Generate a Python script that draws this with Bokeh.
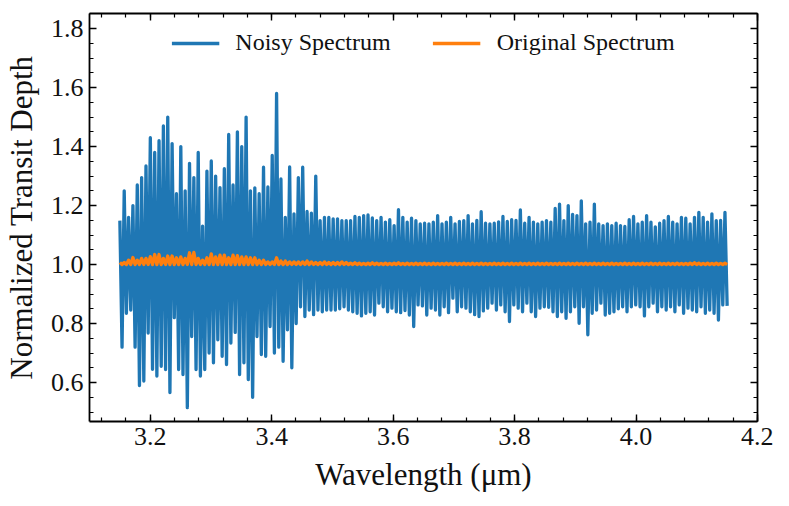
import numpy as np
from bokeh.plotting import figure
from bokeh.models import (LinearAxis, SingleIntervalTicker, Range1d, Legend,
                          LegendItem, CustomJSTickFormatter)
from bokeh.embed import file_html
from bokeh.resources import INLINE

# ---- data ----
series_names = ["Noisy Spectrum", "Original Spectrum"]
wavelength_start = 3.15
wavelength_end = 4.15

noisy_depth = [
    1.149, 0.72, 1.25, 0.835, 1.16, 0.846, 1.20, 0.72, 1.27, 0.59, 1.295, 0.605, 1.334, 0.768, 1.43, 0.645, 1.38, 0.622, 1.42, 0.655,
    1.47, 0.644, 1.50, 0.566, 1.41, 0.82, 1.24, 0.644, 1.40, 0.627, 1.25, 0.515, 1.343, 0.756, 1.295, 0.644, 1.38, 0.622, 1.13, 0.644,
    1.317, 0.70, 1.351, 0.667, 1.30, 0.745, 1.261, 0.689, 1.325, 0.661, 1.441, 0.734, 1.27, 0.77, 1.45, 0.627, 1.40, 0.667, 1.50, 0.61,
    1.25, 0.55, 1.26, 0.756, 1.24, 0.695, 1.33, 0.689, 1.263, 0.79, 1.37, 0.70, 1.58, 0.72, 1.29, 0.672, 1.16, 0.779, 1.331, 0.65,
    1.172, 0.80, 1.295, 0.857, 1.33, 0.824, 1.18, 0.846, 1.174, 0.83, 1.30, 0.846, 1.149, 0.84, 1.16, 0.846, 1.16, 0.846, 1.155, 0.846,
    1.155, 0.85, 1.149, 0.857, 1.149, 0.846, 1.149, 0.84, 1.163, 0.835, 1.16, 0.826, 1.166, 0.835, 1.168, 0.84, 1.158, 0.829, 1.149, 0.869,
    1.16, 0.857, 1.144, 0.84, 1.152, 0.852, 1.132, 0.84, 1.186, 0.837, 1.16, 0.844, 1.144, 0.829, 1.157, 0.79, 1.149, 0.863, 1.138, 0.86,
    1.14, 0.829, 1.138, 0.852, 1.144, 0.846, 1.166, 0.829, 1.138, 0.857, 1.144, 0.837, 1.16, 0.886, 1.138, 0.84, 1.146, 0.857, 1.149, 0.852,
    1.166, 0.84, 1.138, 0.83, 1.15, 0.824, 1.179, 0.843, 1.14, 0.852, 1.138, 0.869, 1.14, 0.846, 1.145, 0.863, 1.163, 0.84, 1.146, 0.807,
    1.152, 0.863, 1.15, 0.852, 1.185, 0.84, 1.14, 0.869, 1.16, 0.84, 1.144, 0.824, 1.138, 0.852, 1.144, 0.857, 1.149, 0.855, 1.144, 0.84,
    1.19, 0.824, 1.205, 0.84, 1.149, 0.818, 1.20, 0.84, 1.17, 0.857, 1.166, 0.801, 1.216, 0.857, 1.138, 0.762, 1.144, 0.835, 1.205, 0.846,
    1.138, 0.869, 1.132, 0.829, 1.138, 0.835, 1.132, 0.84, 1.14, 0.85, 1.132, 0.857, 1.129, 0.84, 1.152, 0.857, 1.163, 0.863, 1.138, 0.857,
    1.144, 0.826, 1.166, 0.857, 1.144, 0.869, 1.128, 0.84, 1.14, 0.857, 1.149, 0.846, 1.163, 0.857, 1.144, 0.84, 1.138, 0.863, 1.16, 0.835,
    1.157, 0.852, 1.138, 0.846, 1.16, 0.84, 1.177, 0.857, 1.16, 0.835, 1.144, 0.846, 1.172, 0.835, 1.149, 0.812, 1.15, 0.863, 1.177, 0.86,
]

original_depth = [
    1.007, 1.0, 1.007, 1.0, 1.015, 1.0, 1.024, 1.0, 1.015, 1.0, 1.021, 1.0, 1.021, 1.0, 1.027, 1.0, 1.034, 1.0, 1.034, 1.0,
    1.021, 1.0, 1.029, 1.0, 1.029, 1.0, 1.023, 1.0, 1.026, 1.0, 1.021, 1.0, 1.040, 1.0, 1.041, 1.0, 1.021, 1.0, 1.015, 1.0,
    1.023, 1.0, 1.036, 1.0, 1.026, 1.0, 1.032, 1.0, 1.032, 1.0, 1.023, 1.0, 1.032, 1.0, 1.030, 1.0, 1.026, 1.0, 1.026, 1.0,
    1.023, 1.0, 1.023, 1.0, 1.015, 1.0, 1.015, 1.0, 1.009, 1.0, 1.009, 1.0, 1.023, 1.0, 1.012, 1.0, 1.012, 1.0, 1.009, 1.0,
    1.009, 1.0, 1.009, 1.0, 1.009, 1.0, 1.012, 1.0, 1.009, 1.0, 1.007, 1.0, 1.007, 1.0, 1.009, 1.0, 1.007, 1.0, 1.007, 1.0,
    1.007, 1.0, 1.009, 1.0, 1.007, 1.0, 1.005, 1.0, 1.006, 1.0, 1.005, 1.0, 1.004, 1.0, 1.005, 1.0, 1.006, 1.0, 1.005, 1.0,
    1.004, 1.0, 1.005, 1.0, 1.004, 1.0, 1.005, 1.0, 1.006, 1.0, 1.004, 1.0, 1.005, 1.0, 1.004, 1.0, 1.005, 1.0, 1.004, 1.0,
    1.005, 1.0, 1.004, 1.0, 1.005, 1.0, 1.004, 1.0, 1.004, 1.0, 1.005, 1.0, 1.004, 1.0, 1.005, 1.0, 1.004, 1.0, 1.005, 1.0,
    1.004, 1.0, 1.005, 1.0, 1.004, 1.0, 1.005, 1.0, 1.004, 1.0, 1.004, 1.0, 1.005, 1.0, 1.004, 1.0, 1.005, 1.0, 1.004, 1.0,
    1.005, 1.0, 1.004, 1.0, 1.005, 1.0, 1.004, 1.0, 1.005, 1.0, 1.004, 1.0, 1.005, 1.0, 1.004, 1.0, 1.005, 1.0, 1.004, 1.0,
    1.004, 1.0, 1.005, 1.0, 1.004, 1.0, 1.005, 1.0, 1.004, 1.0, 1.005, 1.0, 1.004, 1.0, 1.005, 1.0, 1.004, 1.0, 1.005, 1.0,
    1.004, 1.0, 1.005, 1.0, 1.004, 1.0, 1.005, 1.0, 1.004, 1.0, 1.004, 1.0, 1.005, 1.0, 1.004, 1.0, 1.005, 1.0, 1.004, 1.0,
    1.005, 1.0, 1.004, 1.0, 1.005, 1.0, 1.004, 1.0, 1.005, 1.0, 1.004, 1.0, 1.005, 1.0, 1.004, 1.0, 1.005, 1.0, 1.004, 1.0,
    1.004, 1.0, 1.005, 1.0, 1.006, 1.0, 1.005, 1.0, 1.004, 1.0, 1.005, 1.0, 1.004, 1.0, 1.005, 1.0, 1.004, 1.0, 1.005, 1.0,
]

noisy_wavelength = np.linspace(wavelength_start, wavelength_end, len(noisy_depth)).tolist()
original_wavelength = np.linspace(wavelength_start, wavelength_end, len(original_depth)).tolist()

# ---- style ----
SERIF = "Liberation Serif"
BLUE = "#1f77b4"
ORANGE = "#ff7f0e"
LW = 3.3

p = figure(width=773, height=502,
           x_range=Range1d(3.1, 4.2), y_range=Range1d(0.468, 1.851),
           output_backend="svg", toolbar_location=None,
           min_border_left=88, min_border_right=16,
           min_border_top=13, min_border_bottom=81,
           x_axis_label="Wavelength (\u03bcm)",
           y_axis_label="Normalized Transit Depth")
p.xgrid.visible = False
p.ygrid.visible = False
p.outline_line_color = None
p.background_fill_color = "white"

r_noisy = p.line(noisy_wavelength, noisy_depth, line_color=BLUE, line_width=LW,
                 line_join="round")
r_orig = p.line(original_wavelength, original_depth, line_color=ORANGE, line_width=LW,
                line_join="round")

one_decimal = CustomJSTickFormatter(code="return tick.toFixed(1);")
no_label = CustomJSTickFormatter(code="return '';")

def style_axis(ax):
    ax.axis_line_color = "black"
    ax.axis_line_width = 1.8
    ax.major_tick_line_color = "black"
    ax.minor_tick_line_color = "black"
    ax.major_tick_line_width = 1.4
    ax.minor_tick_line_width = 1.2
    ax.major_tick_in = 7
    ax.major_tick_out = 0
    ax.minor_tick_in = 4
    ax.minor_tick_out = 0

for ax in [p.xaxis[0], p.yaxis[0]]:
    style_axis(ax)
    ax.formatter = one_decimal
    ax.major_label_text_font = SERIF
    ax.major_label_text_font_size = "26px"
    ax.major_label_text_color = "#111111"
    ax.axis_label_text_font = SERIF
    ax.axis_label_text_font_size = "31px"
    ax.axis_label_text_font_style = "normal"
    ax.axis_label_text_color = "#111111"

p.xaxis[0].ticker = SingleIntervalTicker(interval=0.2, num_minor_ticks=5)
p.yaxis[0].ticker = SingleIntervalTicker(interval=0.2, num_minor_ticks=4)
p.xaxis[0].major_label_standoff = 6
p.xaxis[0].axis_label_standoff = 9
p.yaxis[0].major_label_standoff = 6
p.yaxis[0].axis_label_standoff = 9

top_axis = LinearAxis(ticker=SingleIntervalTicker(interval=0.2, num_minor_ticks=5),
                      formatter=no_label)
right_axis = LinearAxis(ticker=SingleIntervalTicker(interval=0.2, num_minor_ticks=4),
                        formatter=no_label)
for ax in (top_axis, right_axis):
    style_axis(ax)
    ax.major_label_standoff = 0
    ax.major_label_text_font_size = "2px"
p.add_layout(top_axis, "above")
p.add_layout(right_axis, "right")

legend = Legend(items=[LegendItem(label=series_names[0], renderers=[r_noisy]),
                       LegendItem(label=series_names[1], renderers=[r_orig])],
                location="top_center", orientation="horizontal")
legend.background_fill_alpha = 0
legend.border_line_alpha = 0
legend.label_text_font = SERIF
legend.label_text_font_size = "24px"
legend.label_text_color = "#111111"
legend.glyph_width = 48
legend.glyph_height = 20
legend.label_standoff = 16
legend.spacing = 42
legend.margin = 6
legend.padding = 10
p.add_layout(legend, "center")

open("out.html", "w").write(file_html(p, INLINE))
